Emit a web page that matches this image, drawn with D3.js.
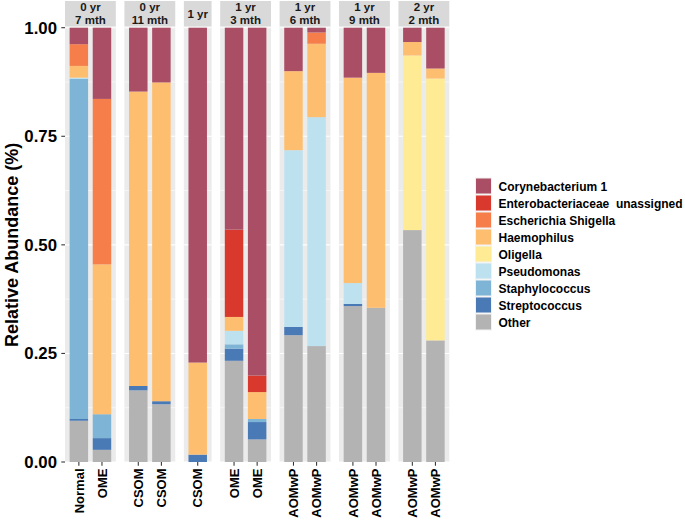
<!DOCTYPE html>
<html><head><meta charset="utf-8">
<script src="https://cdn.jsdelivr.net/npm/d3@7"></script>
<style>body{margin:0;background:#fff}svg{display:block}text{font-family:"Liberation Sans",Arial,sans-serif;font-weight:bold;white-space:pre}</style>
</head><body><svg id="c" width="685" height="521"></svg>
<script>
const panels = [["0 yr","7 mth"],["0 yr","11 mth"],["1 yr"],["1 yr","3 mth"],["1 yr","6 mth"],["1 yr","9 mth"],["2 yr","2 mth"]];
const samples = ["Normal","OME","CSOM","CSOM","CSOM","OME","OME","AOMwP","AOMwP","AOMwP","AOMwP","AOMwP","AOMwP"];
const samplePanel = [0,0,1,1,2,3,3,4,4,5,5,6,6];
const taxa = ["Corynebacterium 1","Enterobacteriaceae  unassigned","Escherichia Shigella","Haemophilus","Oligella","Pseudomonas","Staphylococcus","Streptococcus","Other"];
const colors = ["#AA4E66","#D8392C","#F57E4A","#FDBE70","#FEEB94","#BDE1EF","#7EB4D5","#4A7AB6","#B3B3B3"];
const coryne  = [0.038,0.164,0.147,0.126,0.771,0.465,0.801,0.100,0.011,0.115,0.104,0.033,0.094];
const entero  = [0,0,0,0,0,0.201,0.038,0,0,0,0,0,0];
const esch    = [0.050,0.381,0,0,0,0,0,0,0.026,0,0,0,0];
const haemo   = [0.027,0.345,0.678,0.734,0.212,0.032,0.062,0.182,0.169,0.473,0.541,0.031,0.023];
const olig    = [0,0,0,0,0,0,0,0,0,0,0,0.402,0.603];
const pseudo  = [0.003,0,0,0,0,0.031,0,0.407,0.527,0.048,0,0,0];
const staph   = [0.783,0.055,0,0,0,0.010,0.007,0,0,0,0,0,0];
const strep   = [0.004,0.027,0.010,0.007,0.017,0.028,0.040,0.019,0,0.005,0,0,0];
const other   = [0.095,0.028,0.165,0.133,0,0.233,0.052,0.292,0.267,0.359,0.355,0.534,0.280];
const yTicks = [0,0.25,0.5,0.75,1];
const yMinor = [0.125,0.375,0.625,0.875];

const series = [coryne,entero,esch,haemo,olig,pseudo,staph,strep,other];
const svg = d3.select("#c");
const y = d3.scaleLinear().domain([0,1]).range([462,27.7]);
const plotL = 65, plotR = 449.3, gap = 8.6;
const counts = panels.map((p,i)=>samplePanel.filter(s=>s===i).length);
const units = counts.map(n=>n+0.2);
const unit = (plotR-plotL-gap*(panels.length-1))/d3.sum(units);
let cur = plotL;
const panelX = units.map(u=>{const a=cur;cur+=u*unit+gap;return [a,a+u*unit];});

const rows = samples.map((s,i)=>{const r={id:i,panel:samplePanel[i]};taxa.forEach((t,k)=>r[t]=series[k][i]);return r;});
const stack = d3.stack().keys(taxa.slice().reverse())(rows);

panels.forEach((lab,pi)=>{
  const [x0,x1] = panelX[pi];
  const ids = rows.filter(r=>r.panel===pi).map(r=>r.id);
  const x = d3.scaleBand().domain(ids).range([x0,x1]).paddingInner(0.2).paddingOuter(0.2);
  const g = svg.append("g");
  g.append("rect").attr("x",x0).attr("y",26.3).attr("width",x1-x0).attr("height",462-26.3).attr("fill","#EBEBEB");
  yMinor.forEach(v=>g.append("line").attr("x1",x0).attr("x2",x1).attr("y1",y(v)).attr("y2",y(v)).attr("stroke","#fff").attr("stroke-width",0.55));
  yTicks.forEach(v=>g.append("line").attr("x1",x0).attr("x2",x1).attr("y1",y(v)).attr("y2",y(v)).attr("stroke","#fff").attr("stroke-width",1.1));
  ids.forEach(id=>g.append("line").attr("x1",x.bandwidth()/2+x(id)).attr("x2",x.bandwidth()/2+x(id)).attr("y1",26.3).attr("y2",462).attr("stroke","#fff").attr("stroke-width",1.1));
  stack.forEach(layer=>{
    const col = colors[taxa.indexOf(layer.key)];
    layer.filter(d=>d.data.panel===pi && d[1]-d[0]>0).forEach(d=>{
      g.append("rect").attr("x",x(d.data.id)).attr("width",x.bandwidth()).attr("y",y(d[1])).attr("height",y(d[0])-y(d[1])).attr("fill",col);
    });
  });
  g.append("rect").attr("x",x0).attr("y",1).attr("width",x1-x0).attr("height",25.3).attr("fill","#D9D9D9");
  const cx=(x0+x1)/2;
  if(lab.length===2){
    g.append("text").attr("x",cx).attr("y",10.8).attr("text-anchor","middle").attr("font-size",11.5).attr("fill","#1A1A1A").text(lab[0]);
    g.append("text").attr("x",cx).attr("y",24.2).attr("text-anchor","middle").attr("font-size",11.5).attr("fill","#1A1A1A").text(lab[1]);
  } else {
    g.append("text").attr("x",cx).attr("y",17.8).attr("text-anchor","middle").attr("font-size",11.5).attr("fill","#1A1A1A").text(lab[0]);
  }
  ids.forEach(id=>{
    const c = x(id)+x.bandwidth()/2;
    g.append("line").attr("x1",c).attr("x2",c).attr("y1",462).attr("y2",465.7).attr("stroke","#333").attr("stroke-width",1.07);
    g.append("text").attr("transform",`translate(${c+4.7},468.5) rotate(-90)`).attr("text-anchor","end").attr("font-size",13).attr("fill","#000").text(samples[id]);
  });
});

const ya = svg.append("g");
yTicks.forEach(v=>{
  ya.append("line").attr("x1",61.3).attr("x2",65).attr("y1",y(v)).attr("y2",y(v)).attr("stroke","#333").attr("stroke-width",1.07);
  ya.append("text").attr("x",57).attr("y",y(v)+6).attr("text-anchor","end").attr("font-size",16.8).attr("fill","#000").text(d3.format(".2f")(v));
});
svg.append("text").attr("transform",`translate(18,${y(0.5)}) rotate(-90)`).attr("text-anchor","middle").attr("font-size",18).attr("fill","#000").text("Relative Abundance (%)");

const lg = svg.append("g");
taxa.forEach((t,i)=>{
  const yy = 177.5+i*17;
  lg.append("rect").attr("x",475).attr("y",yy).attr("width",17).attr("height",17).attr("fill","#F2F2F2");
  lg.append("rect").attr("x",476).attr("y",yy+1).attr("width",15).attr("height",15).attr("fill",colors[i]);
  lg.append("text").attr("x",498.5).attr("y",yy+13).attr("font-size",12).attr("fill","#000").text(t);
});
</script></body></html>
